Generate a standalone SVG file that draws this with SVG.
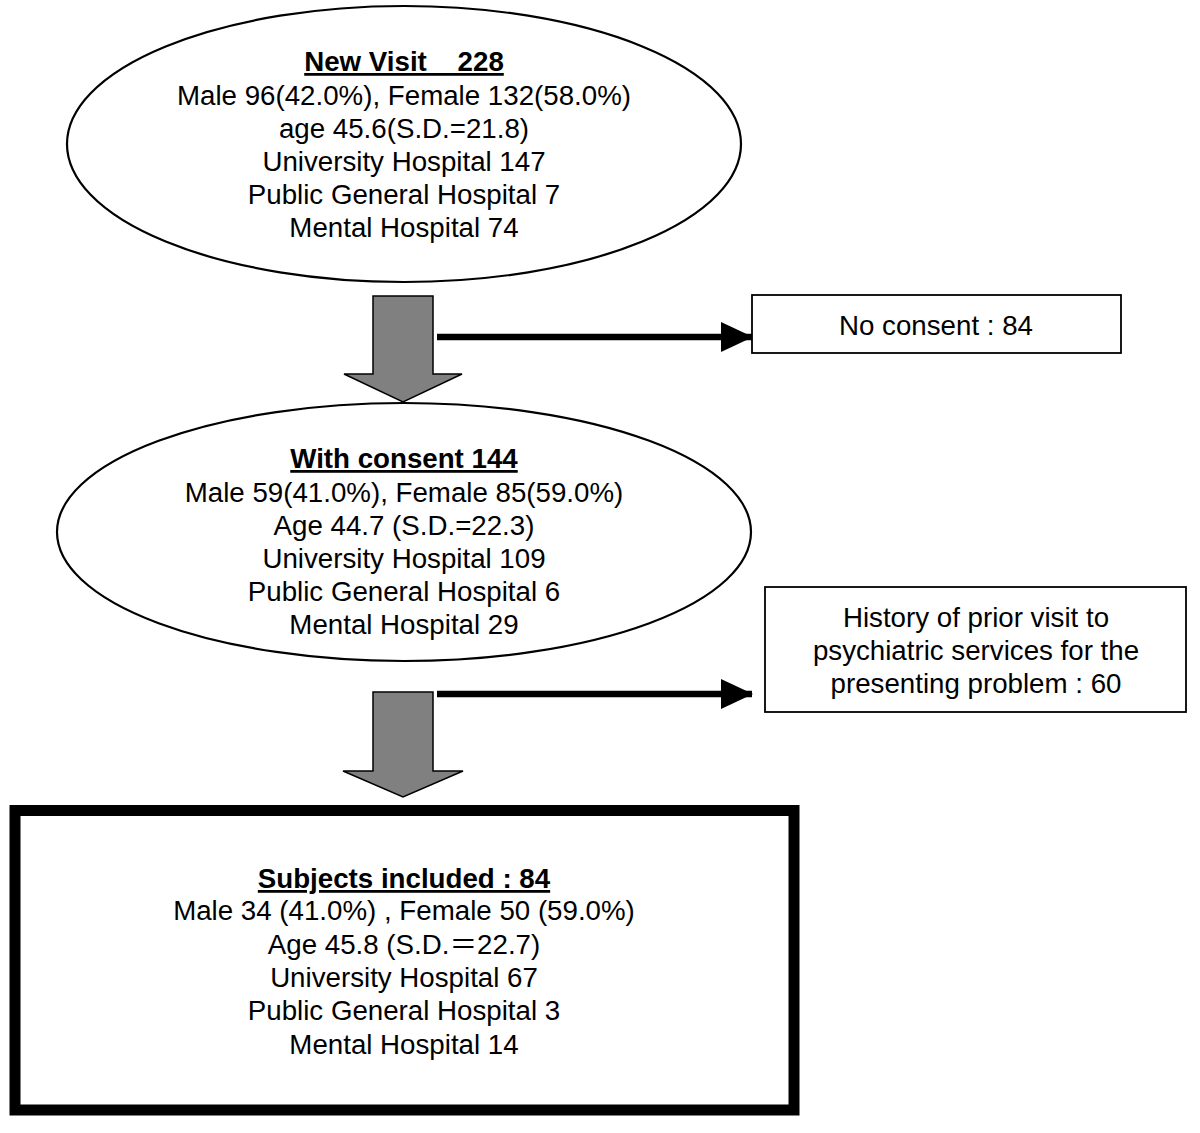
<svg xmlns="http://www.w3.org/2000/svg" width="1200" height="1133" viewBox="0 0 1200 1133">
<defs>
<style>
text{font-family:"Liberation Sans","Noto Sans CJK JP",Arial,sans-serif;font-size:27.7px;fill:#000;text-anchor:middle}
.t{font-weight:bold;text-decoration:underline}
.ell{fill:#fff;stroke:#000;stroke-width:2.2}
.box{fill:#fff;stroke:#000;stroke-width:1.8}
.big{fill:#fff;stroke:#000;stroke-width:11}
.gray{fill:#808080;stroke:#000;stroke-width:1.5;stroke-linejoin:miter}
.line{stroke:#000;stroke-width:6.5;fill:none}
</style>
<marker id="ah" markerUnits="userSpaceOnUse" viewBox="0 0 32 30" refX="31" refY="15" markerWidth="32" markerHeight="30" orient="auto">
<path d="M0,0 L32,15 L0,30 Z" fill="#000"/>
</marker>
</defs>
<rect width="1200" height="1133" fill="#fff"/>
<g id="connectors">
<path class="gray" d="M373,296 L433,296 L433,374 L462,374 L403,402 L344,374 L373,374 Z"/>
<path class="gray" d="M373,692 L433,692 L433,771 L463,771 L403,797 L343,771 L373,771 Z"/>
<line class="line" x1="437" y1="337" x2="752" y2="337" marker-end="url(#ah)"/>
<line class="line" x1="437" y1="694" x2="752" y2="694" marker-end="url(#ah)"/>
</g>
<g id="new-visit">
<ellipse class="ell" cx="404" cy="144" rx="337" ry="138"/>
<text class="t" x="404" y="71" xml:space="preserve">New Visit    228</text>
<text x="404" y="105">Male 96(42.0%), Female 132(58.0%)</text>
<text x="404" y="138">age 45.6(S.D.=21.8)</text>
<text x="404" y="171">University Hospital 147</text>
<text x="404" y="204">Public General Hospital 7</text>
<text x="404" y="237">Mental Hospital 74</text>
</g>
<g id="no-consent">
<rect class="box" x="752" y="295" width="369" height="58"/>
<text x="936" y="335">No consent : 84</text>
</g>
<g id="with-consent">
<ellipse class="ell" cx="404" cy="532" rx="347" ry="129"/>
<text class="t" x="404" y="468">With consent 144</text>
<text x="404" y="502">Male 59(41.0%), Female 85(59.0%)</text>
<text x="404" y="535">Age 44.7 (S.D.=22.3)</text>
<text x="404" y="568">University Hospital 109</text>
<text x="404" y="601">Public General Hospital 6</text>
<text x="404" y="634">Mental Hospital 29</text>
</g>
<g id="history">
<rect class="box" x="765" y="587" width="421" height="125"/>
<text x="976" y="627">History of prior visit to</text>
<text x="976" y="660">psychiatric services for the</text>
<text x="976" y="693">presenting problem : 60</text>
</g>
<g id="subjects">
<rect class="big" x="15" y="810.5" width="779" height="299.5"/>
<text class="t" x="404" y="888">Subjects included : 84</text>
<text x="404" y="920">Male 34 (41.0%) , Female 50 (59.0%)</text>
<text x="404" y="954">Age 45.8 (S.D.＝22.7)</text>
<text x="404" y="987">University Hospital 67</text>
<text x="404" y="1020">Public General Hospital 3</text>
<text x="404" y="1054">Mental Hospital 14</text>
</g>
</svg>
